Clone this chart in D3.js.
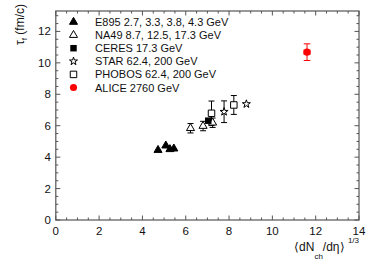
<!DOCTYPE html>
<html><head><meta charset="utf-8">
<script src="https://cdn.jsdelivr.net/npm/d3@7"></script>
<style>body{margin:0;background:#fff}svg{display:block}text{font-family:"Liberation Sans",Arial,sans-serif}</style>
</head><body><svg id="c" width="374" height="263"></svg>
<script>
// ---- data ----
const e895X = [4.72, 5.08, 5.27, 5.45];
const e895Y = [4.45, 4.73, 4.5, 4.54];
const na49X = [6.22, 6.8, 7.24];
const na49Y = [5.84, 5.98, 6.19];
const na49Err = [0.3, 0.3, 0.3];
const ceresX = [7.04];
const ceresY = [6.32];
const starX = [7.77, 8.8];
const starY = [6.89, 7.38];
const starErr = [0.69, 0.0];
const phobosX = [7.19, 8.22];
const phobosY = [6.79, 7.32];
const phobosErr = [0.78, 0.6];
const aliceX = [11.6];
const aliceY = [10.68];
const aliceErr = [0.53];
const aliceSysX = [0.18];
const aliceSysY = [0.17];
const legendLabels = ["E895 2.7, 3.3, 3.8, 4.3 GeV","NA49 8.7, 12.5, 17.3 GeV","CERES 17.3 GeV","STAR 62.4, 200 GeV","PHOBOS 62.4, 200 GeV","ALICE 2760 GeV"];
const xTicks = [0,2,4,6,8,10,12,14];
const yTicks = [0,2,4,6,8,10,12];
const xDomain = [0,14];
const yDomain = [0,13.3];

const svg = d3.select("#c");
const L=55.8, R=359, T=11, B=220;
const x = d3.scaleLinear().domain(xDomain).range([L,R]);
const y = d3.scaleLinear().domain(yDomain).range([B,T]);
const axCol = "#555", txtCol="#111", fs = 11, tfs = 12;

// frame
svg.append("rect").attr("x",L).attr("y",T).attr("width",R-L).attr("height",B-T)
  .attr("fill","none").attr("stroke",axCol).attr("stroke-width",1.2);

// ticks (inside)
const xMinor = d3.range(0,14.01,0.5), yMinor = d3.range(0,13.3,0.5);
const tk = svg.append("g").attr("stroke",axCol).attr("stroke-width",1);
xMinor.forEach(v=>{
  const major = Math.abs(v/2-Math.round(v/2))<1e-6;
  const len = major?4.5:2.5;
  tk.append("line").attr("x1",x(v)).attr("x2",x(v)).attr("y1",B).attr("y2",B-len);
  tk.append("line").attr("x1",x(v)).attr("x2",x(v)).attr("y1",T).attr("y2",T+len);
});
yMinor.forEach(v=>{
  const major = Math.abs(v/2-Math.round(v/2))<1e-6;
  const len = major?4.5:2.5;
  tk.append("line").attr("y1",y(v)).attr("y2",y(v)).attr("x1",L).attr("x2",L+len);
  tk.append("line").attr("y1",y(v)).attr("y2",y(v)).attr("x1",R).attr("x2",R-len);
});

// tick labels
svg.append("g").selectAll("text").data(xTicks).join("text")
  .attr("x",d=>x(d)).attr("y",B+15).attr("text-anchor","middle")
  .attr("font-size",fs+0.5).attr("fill",txtCol).text(d=>d);
svg.append("g").selectAll("text").data(yTicks).join("text")
  .attr("x",L-5).attr("y",d=>y(d)+4).attr("text-anchor","end")
  .attr("font-size",fs+0.5).attr("fill",txtCol).text(d=>d);

// axis titles
const xt = svg.append("text").attr("x",R).attr("y",251).attr("text-anchor","end")
  .attr("font-size",tfs).attr("fill",txtCol);
xt.append("tspan").text("\u27E8dN");
xt.append("tspan").attr("dy",8).attr("font-size",8).text("ch");
xt.append("tspan").attr("dy",-8).text("/d\u03B7\u27E9 ");
xt.append("tspan").attr("dy",-8).attr("font-size",8).text("1/3");

const yt = svg.append("text").attr("transform","translate(24,4) rotate(-90)")
  .attr("text-anchor","end").attr("font-size",tfs).attr("fill",txtCol);
yt.append("tspan").text("\u03C4");
yt.append("tspan").attr("dy",3).attr("font-size",8).text("f");
yt.append("tspan").attr("dy",-3).text(" (fm/c)");

// helpers
function errBars(xs, ys, es, col, cap){
  const g = svg.append("g").attr("stroke",col).attr("stroke-width",1);
  xs.forEach((xv,i)=>{
    if(!es[i]) return;
    const px=x(xv), y1=y(ys[i]+es[i]), y2=y(ys[i]-es[i]);
    g.append("line").attr("x1",px).attr("x2",px).attr("y1",y1).attr("y2",y2);
    g.append("line").attr("x1",px-cap).attr("x2",px+cap).attr("y1",y1).attr("y2",y1);
    g.append("line").attr("x1",px-cap).attr("x2",px+cap).attr("y1",y2).attr("y2",y2);
  });
}
const shapes = {
  tri: d3.symbol().type(d3.symbolTriangle).size(28),
  sq: d3.symbol().type(d3.symbolSquare).size(42),
  star: d3.symbol().type(d3.symbolStar).size(20),
  circ: d3.symbol().type(d3.symbolCircle).size(40)
};
function markers(xs, ys, shape, fill, stroke){
  svg.append("g").selectAll("path").data(xs).join("path")
    .attr("d",shapes[shape]()).attr("transform",(d,i)=>`translate(${x(d)},${y(ys[i])})`)
    .attr("fill",fill).attr("stroke",stroke).attr("stroke-width",1);
}

// data series
errBars(na49X, na49Y, na49Err, "#000", 3);
errBars(starX, starY, starErr, "#000", 3);
errBars(phobosX, phobosY, phobosErr, "#000", 3);
markers(e895X, e895Y, "tri", "#000", "#000");
markers(na49X, na49Y, "tri", "#fff", "#000");
markers(ceresX, ceresY, "sq", "#000", "none");
markers(starX, starY, "star", "#fff", "#000");
markers(phobosX, phobosY, "sq", "#fff", "#000");
// ALICE: systematic box + error bar
svg.append("g").selectAll("rect").data(aliceX).join("rect")
  .attr("x",(d,i)=>x(d-aliceSysX[i])).attr("width",(d,i)=>x(d+aliceSysX[i])-x(d-aliceSysX[i]))
  .attr("y",(d,i)=>y(aliceY[i]+aliceSysY[i])).attr("height",(d,i)=>y(aliceY[i]-aliceSysY[i])-y(aliceY[i]+aliceSysY[i]))
  .attr("fill","#ff8080");
errBars(aliceX, aliceY, aliceErr, "#f00", 3.3);
markers(aliceX, aliceY, "circ", "#f00", "none");

// legend
const legShapes = [["tri","#000","#000"],["tri","#fff","#000"],["sq","#000","none"],["star","#fff","#000"],["sq","#fff","#000"],["circ","#f00","none"]];
const lg = svg.append("g");
legendLabels.forEach((lab,i)=>{
  const cy = 22 + 13.1*i;
  const s = legShapes[i];
  lg.append("path").attr("d",shapes[s[0]]()).attr("transform",`translate(73.5,${cy})`)
    .attr("fill",s[1]).attr("stroke",s[2]).attr("stroke-width",1);
  lg.append("text").attr("x",95).attr("y",cy+4).attr("font-size",fs).attr("fill",txtCol).text(lab);
});
</script></body></html>
